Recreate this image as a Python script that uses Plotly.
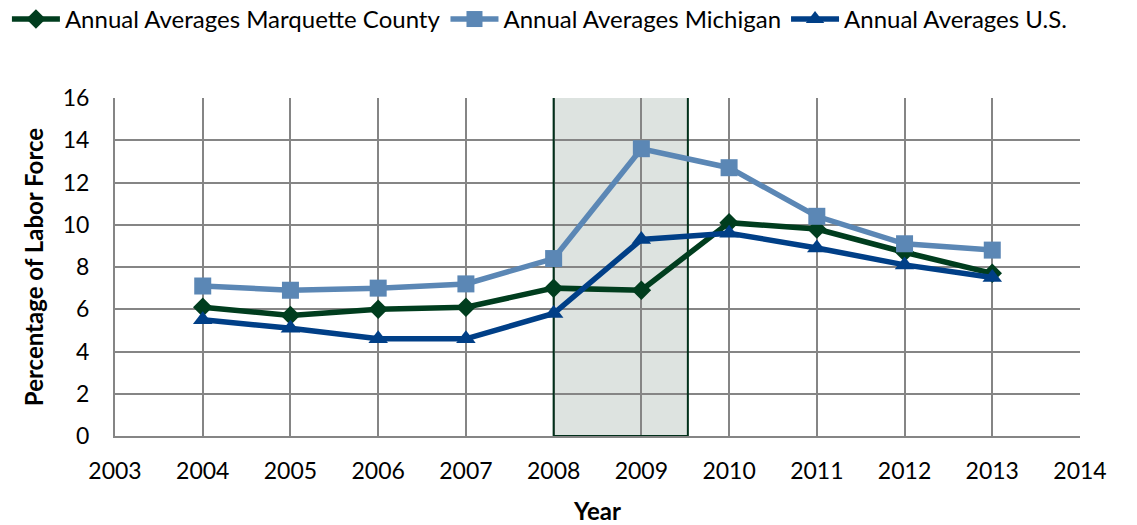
import plotly.graph_objects as go

years = [2004, 2005, 2006, 2007, 2008, 2009, 2010, 2011, 2012, 2013]
marquette = [6.1, 5.7, 6.0, 6.1, 7.0, 6.9, 10.1, 9.8, 8.7, 7.7]
michigan = [7.1, 6.9, 7.0, 7.2, 8.4, 13.6, 12.7, 10.4, 9.1, 8.8]
us = [5.5, 5.1, 4.6, 4.6, 5.8, 9.3, 9.6, 8.9, 8.1, 7.5]

names = ["Annual Averages Marquette County", "Annual Averages Michigan", "Annual Averages U.S."]
colors = ["#003d1e", "#5b87b5", "#003f87"]
symbols = ["diamond", "square", "triangle-up"]
sizes = [15, 17, 17]

recession_x = [2008, 2009.53]
recession_y = [0, 16.11]

fig = go.Figure()
fig.add_shape(type="rect", xref="x", yref="y",
              x0=recession_x[0], x1=recession_x[1], y0=recession_y[0], y1=recession_y[1],
              fillcolor="#dde3e0", line=dict(width=0), layer="below")
fig.add_shape(type="rect", xref="x", yref="y",
              x0=recession_x[0], x1=recession_x[1], y0=recession_y[0], y1=recession_y[1],
              fillcolor="rgba(0,0,0,0)", line=dict(color="#00301a", width=2), layer="between")

for vals, n, c, s, sz in zip([marquette, michigan, us], names, colors, symbols, sizes):
    fig.add_trace(go.Scatter(x=years, y=vals, name=n, mode="lines+markers",
                             line=dict(color=c, width=5.5),
                             marker=dict(symbol=s, size=sz, color=c)))

font = "Lato, Open Sans, sans-serif"
fig.update_layout(
    width=1137, height=525,
    margin=dict(l=115, r=57, t=98, b=89, autoexpand=False),
    paper_bgcolor="white", plot_bgcolor="rgba(0,0,0,0)",
    font=dict(family=font, size=22, color="#000000"),
    showlegend=True,
    legend=dict(orientation="h", x=-0.112, y=1.299, xref="paper", yref="paper",
                xanchor="left", yanchor="top", font=dict(size=24),
                itemwidth=48, tracegroupgap=0, bgcolor="rgba(0,0,0,0)"),
    xaxis=dict(range=[2003, 2014], tickmode="linear", tick0=2003, dtick=1, automargin=False,
               showgrid=True, gridcolor="#858585", gridwidth=2,
               showline=True, linecolor="#858585", linewidth=2,
               zeroline=False, ticks="", tickfont=dict(size=23), ticklabelstandoff=13,
               title=dict(text="<b>Year</b>", font=dict(size=24), standoff=25)),
    yaxis=dict(range=[0, 16], tickmode="linear", tick0=0, dtick=2, automargin=False,
               showgrid=True, gridcolor="#858585", gridwidth=2,
               showline=True, linecolor="#858585", linewidth=2,
               zeroline=False, ticks="", tickfont=dict(size=23), ticklabelstandoff=19,
               title=dict(text="<b>Percentage of Labor Force</b>", font=dict(size=24), standoff=12)),
)
fig.write_html("out.html", config={"displayModeBar": False},
               post_script="document.body.style.margin='0';")
